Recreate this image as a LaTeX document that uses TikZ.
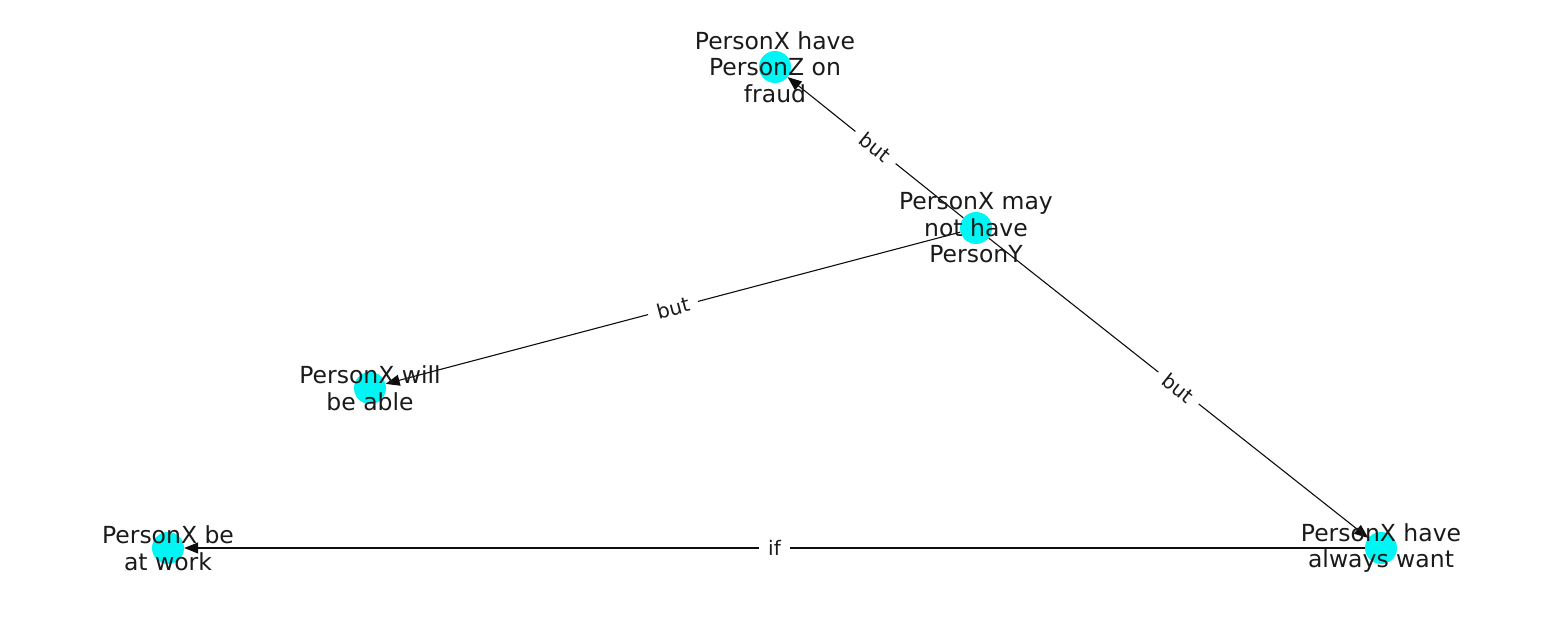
\documentclass[tikz,border=0pt]{standalone}
\usepackage{fontspec}
\setmainfont{DejaVu Sans}
\usetikzlibrary{arrows.meta}
\definecolor{txt}{HTML}{1A1A1A}
\definecolor{nodecyan}{HTML}{00F5F5}
\tikzset{
  vert/.style={circle, fill=nodecyan, minimum size=32pt, inner sep=0pt},
  vlabel/.style={align=center, text=txt, font=\fontsize{23.5}{26.5}\selectfont, inner sep=0pt},
  edge/.style={draw=black!95, line width=1.1pt, -{Triangle[length=14pt,width=11pt]}},
  elabel/.style={fill=white, text=txt, font=\fontsize{20}{21}\selectfont, inner xsep=9pt, inner ysep=4pt, sloped, pos=0.5}
}
\begin{document}
\begin{tikzpicture}[x=1pt,y=-1pt]
\useasboundingbox (0,0) rectangle (1550,616);
\node[vert] (A) at (775,67) {};
\node[vert] (B) at (976,228) {};
\node[vert] (C) at (370,388) {};
\node[vert] (D) at (168,548) {};
\node[vert] (E) at (1381,548) {};
\draw[edge] (B) -- node[elabel] {but} (A);
\draw[edge] (B) -- node[elabel] {but} (C);
\draw[edge] (B) -- node[elabel] {but} (E);
\draw[edge] (E) -- node[elabel] {if} (D);
\node[vlabel] (lA) at (A) {PersonX have\\PersonZ on\\fraud};
\node[vlabel] (lB) at (B) {PersonX may\\not have\\PersonY};
\node[vlabel] (lC) at (C) {PersonX will\\be able};
\node[vlabel] (lD) at (D) {PersonX be\\at work};
\node[vlabel] (lE) at (E) {PersonX have\\always want};
\end{tikzpicture}
\end{document}
